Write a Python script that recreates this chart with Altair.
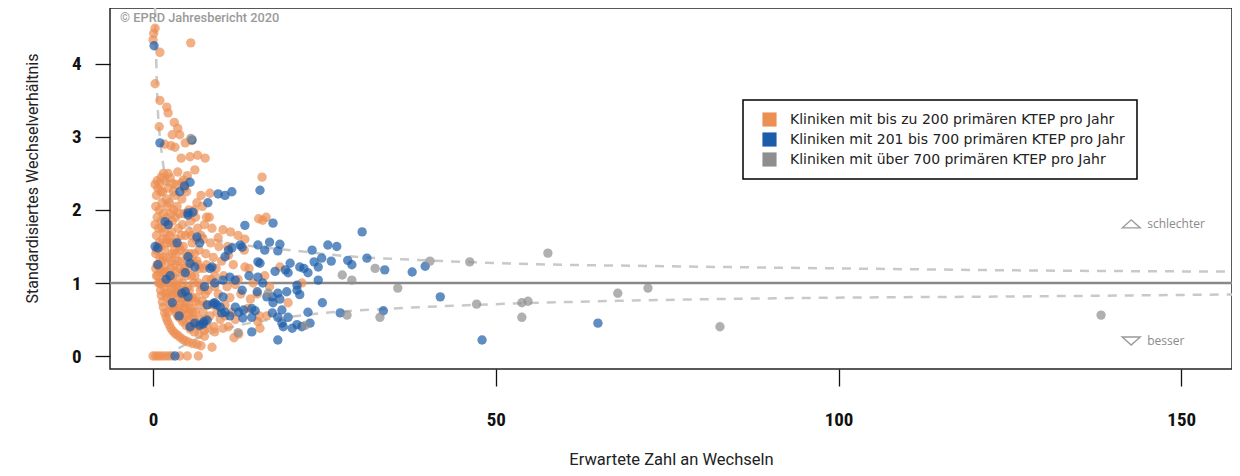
import altair as alt
import pandas as pd

# ---------------- data ----------------
group_labels = [
    "Kliniken mit bis zu 200 primären KTEP pro Jahr",
    "Kliniken mit 201 bis 700 primären KTEP pro Jahr",
    "Kliniken mit über 700 primären KTEP pro Jahr",
]
group_colors = ["#EC8F52", "#1C5CA8", "#8E8E8E"]

# (expected revisions, standardised revision ratio)
orange_points = [
    (0.3, 4.49), (0.1, 4.42), (0.0, 4.33), (1.0, 4.16), (5.5, 4.29), (0.3, 3.73), (1.0, 3.50),
    (2.0, 3.41), (2.2, 3.33), (0.9, 3.14), (3.1, 3.20), (3.6, 3.12), (2.8, 3.03), (3.9, 3.03),
    (1.7, 2.90), (2.6, 2.88), (4.7, 2.92), (3.2, 2.86), (4.1, 2.71), (5.4, 2.73), (7.6, 2.71),
    (6.5, 2.75), (1.5, 2.50), (2.5, 2.44), (3.6, 2.52), (4.4, 2.41), (6.1, 2.55), (5.0, 2.47),
    (1.0, 2.37), (2.9, 2.36), (4.2, 2.37), (15.9, 2.45), (8.3, 2.23), (6.4, 2.10), (7.0, 2.20),
    (5.6, 2.95),
    (0.0, 0.0), (0.4, 0.0), (0.8, 0.0), (1.2, 0.0), (1.7, 0.0), (2.2, 0.0), (2.7, 0.0),
    (3.9, 0.0), (5.0, 0.0), (6.6, 0.0),
    (1.0, 1.00), (1.1, 0.90), (1.2, 0.83), (1.35, 0.74), (1.5, 0.67), (1.7, 0.59), (1.9, 0.53),
    (2.1, 0.48), (2.35, 0.43), (2.6, 0.38), (2.9, 0.34), (3.2, 0.31), (3.5, 0.29), (3.9, 0.26),
    (4.3, 0.23), (4.7, 0.21), (5.2, 0.19), (5.8, 0.17), (6.4, 0.16), (7.0, 0.14), (8.6, 0.12),
    (2.0, 1.00), (2.3, 0.87), (2.6, 0.77), (3.0, 0.67), (3.4, 0.59), (3.8, 0.53), (4.3, 0.47),
    (4.8, 0.42), (5.4, 0.37), (6.0, 0.33), (6.7, 0.30), (7.5, 0.27),
    (3.0, 1.00), (3.5, 0.86), (4.0, 0.75), (4.6, 0.65), (5.2, 0.58), (6.0, 0.50), (7.0, 0.43),
    (8.0, 0.38), (9.0, 0.33),
    (0.3, 2.35), (0.5, 2.20), (0.4, 2.05), (0.6, 1.90), (0.3, 1.80), (0.5, 1.65), (0.7, 1.50),
    (0.4, 1.40), (0.6, 1.25), (0.5, 1.10), (0.8, 1.00), (0.7, 2.30), (0.9, 2.00), (0.8, 1.75),
    (0.9, 1.55), (1.0, 1.35), (1.0, 1.20),
    (1.2, 2.45), (1.4, 2.25), (1.3, 2.10), (1.5, 1.95), (1.2, 1.85), (1.6, 1.70), (1.4, 1.60),
    (1.7, 1.45), (1.3, 1.30), (1.8, 1.25), (1.5, 1.15), (1.9, 1.05), (1.6, 0.95), (1.8, 0.85),
    (2.0, 0.80), (1.9, 2.15), (2.0, 1.90), (2.0, 1.60), (1.1, 1.50), (1.2, 1.00),
    (2.2, 2.30), (2.4, 2.10), (2.6, 1.95), (2.3, 1.80), (2.7, 1.70), (2.5, 1.55), (2.8, 1.40),
    (2.3, 1.35), (2.6, 1.20), (2.9, 1.10), (2.4, 1.00), (2.7, 0.90), (3.0, 0.85), (2.5, 0.70),
    (2.9, 0.65), (2.2, 0.60), (2.8, 1.85), (3.0, 2.00), (2.1, 1.55),
    (3.2, 2.20), (3.5, 2.05), (3.3, 1.90), (3.7, 1.75), (3.4, 1.60), (3.8, 1.50), (3.1, 1.45),
    (3.6, 1.30), (3.9, 1.20), (3.3, 1.15), (3.7, 1.05), (3.2, 0.95), (3.8, 0.90), (3.5, 0.80),
    (3.9, 0.70), (3.3, 0.65), (3.6, 0.55), (4.0, 0.60), (3.4, 2.35), (3.9, 1.95),
    (4.2, 2.15), (4.5, 1.95), (4.3, 1.80), (4.7, 1.65), (4.4, 1.50), (4.8, 1.40), (4.1, 1.30),
    (4.6, 1.20), (4.9, 1.10), (4.3, 1.00), (4.7, 0.90), (4.2, 0.85), (4.8, 0.75), (4.5, 0.65),
    (4.9, 0.55), (4.4, 0.50), (4.1, 1.65), (4.6, 2.30),
    (5.2, 2.00), (5.5, 1.85), (5.3, 1.70), (5.7, 1.55), (5.4, 1.40), (5.8, 1.30), (5.1, 1.20),
    (5.6, 1.10), (5.9, 1.00), (5.3, 0.90), (5.7, 0.80), (5.2, 0.70), (5.8, 0.60), (5.5, 0.50),
    (5.9, 0.45), (5.4, 0.40),
    (6.2, 1.90), (6.5, 1.75), (6.3, 1.60), (6.7, 1.45), (6.4, 1.30), (6.8, 1.20), (6.1, 1.10),
    (6.6, 1.00), (6.9, 0.90), (6.3, 0.80), (6.7, 0.70), (6.2, 0.60), (6.8, 0.50), (6.5, 0.40),
    (7.2, 2.05), (7.5, 1.80), (7.3, 1.60), (7.7, 1.40), (7.4, 1.20), (7.8, 1.05), (7.1, 0.95),
    (7.6, 0.85), (7.9, 0.70), (7.3, 0.60), (7.7, 0.50), (7.5, 0.35),
    (8.2, 1.90), (8.6, 1.75), (8.4, 1.55), (8.8, 1.35), (9.2, 1.20), (8.5, 1.05), (9.0, 0.95),
    (9.5, 0.85), (8.7, 0.70), (9.3, 0.60), (9.8, 0.50), (8.9, 0.40), (9.6, 1.50), (10.0, 1.30),
    (10.3, 1.10), (10.8, 0.95), (11.2, 0.80), (10.5, 0.70), (11.5, 0.60), (12.0, 0.50),
    (10.9, 1.50), (11.7, 1.25), (12.4, 1.05), (12.8, 0.85), (11.0, 0.40), (12.5, 0.30),
    (13.3, 1.45), (14.0, 1.20), (14.6, 1.00), (15.2, 0.85), (13.8, 0.65), (15.5, 0.55),
    (16.3, 1.10), (16.5, 1.90),
    (16.0, 1.86), (15.4, 1.88), (10.2, 1.73), (11.3, 1.70), (12.4, 1.65), (13.4, 1.60),
    (21.7, 1.00), (19.7, 0.73), (10.2, 0.38), (15.3, 0.47), (15.6, 0.38), (13.4, 1.22),
    (11.0, 1.38), (9.5, 1.62), (12.0, 0.98), (17.0, 0.95), (14.2, 0.78), (18.5, 1.22),
    (16.6, 0.55), (11.8, 0.25),
    (0.6, 2.40), (0.5, 1.45), (0.4, 1.20), (0.7, 1.10), (1.1, 2.25), (1.3, 1.75), (1.5, 1.35),
    (1.7, 1.15), (1.2, 1.15), (2.1, 2.05), (2.4, 1.65), (2.2, 1.15), (2.7, 1.30), (3.0, 1.55),
    (3.1, 1.25), (3.4, 1.40), (3.6, 0.95), (4.0, 1.45), (4.3, 1.15), (4.5, 0.80), (5.0, 1.30),
    (5.1, 0.95), (5.5, 0.65), (5.6, 1.65), (6.0, 1.40), (6.2, 0.75), (6.6, 1.25), (7.0, 1.65),
    (7.2, 0.75), (7.8, 1.25), (8.0, 0.90), (8.3, 0.55), (9.0, 1.10), (10.5, 0.55), (6.0, 2.00),
    (7.8, 1.90), (3.0, 2.25), (2.2, 2.50), (1.8, 2.40), (4.9, 2.25),
]

blue_points = [
    (0.15, 4.25), (1.0, 2.92), (5.7, 2.96), (5.4, 2.38), (3.9, 2.25), (4.6, 2.33), (8.0, 2.10),
    (9.5, 2.22), (10.5, 2.20), (11.5, 2.25), (15.6, 2.27), (5.1, 1.93), (5.8, 1.97), (1.75, 1.84),
    (2.2, 1.80), (13.4, 1.79), (17.5, 1.82), (0.7, 1.48), (0.3, 1.50), (11.5, 1.48), (13.0, 1.49),
    (15.3, 1.52), (17.0, 1.56), (18.5, 1.53), (16.3, 1.45), (18.2, 1.44), (23.2, 1.45),
    (25.5, 1.52), (26.8, 1.50), (24.6, 1.34), (5.1, 1.36), (6.4, 1.63), (10.5, 1.36), (8.6, 1.22),
    (15.6, 1.27), (17.8, 1.16), (19.3, 1.18), (19.7, 1.14), (21.4, 1.22), (22.6, 1.14),
    (24.1, 1.22), (21.0, 0.97), (24.1, 1.04), (11.2, 1.08), (12.0, 1.04), (4.7, 1.14), (4.7, 0.88),
    (2.8, 0.73), (9.0, 0.73), (10.0, 0.59), (10.5, 0.60), (6.1, 0.45), (6.8, 0.42), (7.4, 0.47),
    (7.9, 0.49), (12.0, 0.67), (13.2, 0.63), (14.4, 0.65), (13.1, 0.52), (14.4, 0.53),
    (17.4, 0.81), (18.2, 0.86), (17.4, 0.59), (18.8, 0.63), (18.8, 0.45), (20.3, 0.38),
    (21.0, 0.43), (21.7, 0.40), (24.7, 0.73), (22.6, 0.60), (18.2, 0.22), (14.4, 0.33),
    (27.3, 0.59), (3.2, 0.0), (5.1, 0.81), (9.0, 1.00), (10.2, 1.04), (30.5, 1.70), (31.2, 1.34),
    (33.8, 1.18), (28.4, 1.31), (29.0, 1.25), (33.6, 0.62), (37.8, 1.15), (39.7, 1.23),
    (41.9, 0.81), (48.0, 0.22), (64.9, 0.45), (11.0, 1.45), (12.7, 1.52), (15.3, 1.08),
    (15.3, 1.29), (20.0, 1.27), (22.0, 1.20), (23.5, 1.29), (21.4, 0.84), (17.5, 0.73),
    (18.5, 0.78), (19.5, 0.88), (21.0, 0.90), (19.0, 0.40), (22.9, 0.45), (18.2, 0.53),
    (19.7, 0.53), (11.2, 0.55), (12.5, 0.60), (14.9, 0.62), (9.3, 0.70), (10.2, 0.81),
    (15.2, 0.88), (16.6, 0.81), (4.2, 0.86), (0.7, 1.25), (5.1, 1.96), (5.4, 1.27), (6.1, 1.22),
    (8.3, 1.20), (7.9, 0.70), (8.8, 0.72), (9.8, 0.67), (5.4, 0.40), (7.3, 0.44), (1.9, 1.05),
    (3.5, 1.55), (2.5, 1.10), (6.8, 1.55), (7.5, 0.95), (3.8, 0.55), (13.0, 0.90), (14.0, 1.10),
    (16.0, 1.00), (26.0, 1.30),
]

gray_points = [
    (5.5, 2.98), (12.4, 0.32), (16.8, 0.86), (22.2, 0.42), (27.6, 1.11), (29.0, 1.04),
    (32.4, 1.20), (28.3, 0.56), (33.1, 0.53), (35.7, 0.93), (40.4, 1.30), (46.2, 1.29),
    (57.6, 1.41), (47.2, 0.71), (53.8, 0.73), (54.7, 0.75), (53.8, 0.53), (67.8, 0.86),
    (72.2, 0.93), (82.7, 0.40), (138.3, 0.56),
]

# funnel limits (dashed)
upper_E = [0.25, 0.35, 0.45, 0.6, 0.8, 1.0, 1.3, 1.6, 2.0, 2.6, 3.2, 4.2, 5.5, 8, 11, 15, 20,
           28, 40, 55, 75, 100, 130, 160]
upper_S = [5.0, 4.5, 4.1, 3.6, 3.2, 3.0, 2.75, 2.55, 2.38, 2.15, 1.97, 1.85, 1.75, 1.63, 1.55,
           1.5, 1.45, 1.37, 1.31, 1.26, 1.23, 1.2, 1.17, 1.155]
lower_E = [1.5, 2.5, 4, 6, 9, 13, 18, 25, 35, 50, 70, 95, 125, 160]
lower_S = [0.0, 0.04, 0.12, 0.22, 0.33, 0.43, 0.51, 0.59, 0.65, 0.71, 0.76, 0.795, 0.815, 0.845]

reference_ratio = [1.0]

# ---------------- tables ----------------
rows = []
for label, pts in zip(group_labels, [orange_points, blue_points, gray_points]):
    for e, s in pts:
        rows.append({"E": e, "S": s, "group": label})
df = pd.DataFrame(rows)
upper_df = pd.DataFrame({"E": upper_E, "S": upper_S})
lower_df = pd.DataFrame({"E": lower_E, "S": lower_S})
ref_df = pd.DataFrame({"S": reference_ratio})
note_df = pd.DataFrame({"E": [142.7, 142.7], "S": [1.81, 0.205],
                        "t": ["schlechter", "besser"],
                        "shape": ["M-1,0.45L0,-0.45L1,0.45Z", "M-1,-0.45L0,0.45L1,-0.45Z"]})
copy_df = pd.DataFrame({"t": ["© EPRD Jahresbericht 2020"]})

NUM_FONT = "Roboto Condensed, DejaVu Sans Condensed, Liberation Sans, sans-serif"
TXT_FONT = "Roboto"
LEG_FONT = "DejaVu Sans"

x_scale = alt.Scale(domain=[-6.28, 157.4], nice=False, zero=False)
y_scale = alt.Scale(domain=[-0.178, 4.767], nice=False, zero=False)

x_axis = alt.Axis(values=[0, 50, 100, 150], domain=False, grid=False, tickSize=17,
                  tickColor="#111", tickWidth=1.3, labelFont=NUM_FONT, labelFontSize=19,
                  labelFontWeight="bold", labelColor="#111", labelPadding=24,
                  title="Erwartete Zahl an Wechseln", titleFont=TXT_FONT, titleFontSize=16.5,
                  titleFontWeight="normal", titleColor="#222", titleBaseline="middle",
                  titleY=90)
y_axis = alt.Axis(values=[0, 1, 2, 3, 4], domain=False, grid=False, tickSize=15,
                  tickColor="#111", tickWidth=1.3, labelFont=NUM_FONT, labelFontSize=19,
                  labelFontWeight="bold", labelColor="#111", labelPadding=14,
                  title="Standardisiertes Wechselverhältnis", titleFont=TXT_FONT,
                  titleFontSize=16, titleFontWeight="normal", titleColor="#222",
                  titleAngle=270, titleAlign="center", titleBaseline="middle",
                  titleX=-78, titleY=170)

X = alt.X("E:Q", scale=x_scale, axis=x_axis)
Y = alt.Y("S:Q", scale=y_scale, axis=y_axis)

points = alt.Chart(df).mark_circle(size=88, opacity=0.7).encode(
    x=X, y=Y,
    color=alt.Color("group:N",
                    scale=alt.Scale(domain=group_labels, range=group_colors),
                    legend=alt.Legend(title=None, orient="none", legendX=633, legendY=92,
                                      symbolType="square", symbolSize=200, symbolOpacity=1,
                                      symbolStrokeWidth=0, labelFont=LEG_FONT,
                                      labelFontSize=14, labelColor="#222",
                                      padding=12, rowPadding=5, labelOffset=13,
                                      symbolOffset=7, strokeColor="#000",
                                      fillColor="white", labelLimit=500)),
)

ref_rule = alt.Chart(ref_df).mark_rule(color="#888888", strokeWidth=2.5).encode(y=Y)

upper = alt.Chart(upper_df).mark_line(color="#C9C9C9", strokeWidth=2.5, strokeDash=[9, 8],
                                      interpolate="monotone", clip=True).encode(x=X, y=Y)
lower = alt.Chart(lower_df).mark_line(color="#C9C9C9", strokeWidth=2.5, strokeDash=[9, 8],
                                      interpolate="monotone", clip=True).encode(x=X, y=Y)

tri = alt.Chart(note_df).mark_point(filled=False, color="#9A9A9A", strokeWidth=1.4,
                                    size=324, opacity=1).encode(
    x=X, y=Y, shape=alt.Shape("shape:N", scale=None))
notes = alt.Chart(note_df).mark_text(align="left", baseline="middle", dx=16, font="Open Sans",
                                     fontSize=12, color="#8A8A8A").encode(x=X, y=Y, text="t:N")

copyright_txt = alt.Chart(copy_df).mark_text(align="left", baseline="middle", font=TXT_FONT,
                                             fontSize=12.8, fontWeight=500,
                                             color="#9A9A9A").encode(
    x=alt.value(10), y=alt.value(10), text="t:N")

chart = alt.layer(ref_rule, upper, lower, points, tri, notes, copyright_txt).properties(
    width=1122, height=361,
    autosize=alt.AutoSizeParams(type="none"),
    padding={"left": 102, "top": 0, "right": 0, "bottom": 99},
).configure_view(stroke="#222", strokeWidth=1.5).configure_legend(strokeWidth=1.5)

chart.save("out.html", embed_options={"renderer": "svg", "actions": False})
